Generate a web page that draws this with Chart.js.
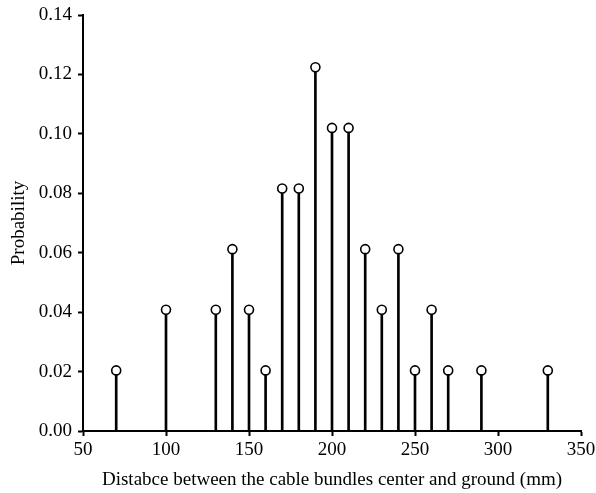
<!DOCTYPE html>
<html>
<head>
<meta charset="utf-8">
<script src="https://cdn.jsdelivr.net/npm/chart.js@4"></script>
<style>
  html, body { margin: 0; padding: 0; background: #fff; }
  #wrap { width: 596px; height: 493px; }
</style>
</head>
<body>
<div id="wrap"><canvas id="stemChart" width="596" height="493"></canvas></div>
<script>
// distance (mm) and probability
const distances = [70, 100, 130, 140, 150, 160, 170, 180, 190, 200, 210, 220, 230, 240, 250, 260, 270, 290, 330];
const probabilities = [0.0204, 0.0408, 0.0408, 0.0612, 0.0408, 0.0204, 0.0816, 0.0816, 0.1224, 0.1020, 0.1020,
  0.0612, 0.0408, 0.0612, 0.0204, 0.0408, 0.0204, 0.0204, 0.0204];
const xTicks = [50, 100, 150, 200, 250, 300, 350];
const yTicks = [0, 0.02, 0.04, 0.06, 0.08, 0.10, 0.12, 0.14];

const points = distances.map((d, i) => ({ x: d, y: probabilities[i] }));
const serif = "'Liberation Serif', 'Times New Roman', serif";

Chart.defaults.font.family = serif;
Chart.defaults.font.size = 19;
Chart.defaults.color = "#000";

const ctx = document.getElementById("stemChart").getContext("2d");
new Chart(ctx, {
  type: "bar",
  data: {
    datasets: [
      {
        type: "scatter",
        data: points,
        order: 0,
        pointRadius: 4.5,
        pointBorderWidth: 1.6,
        pointBackgroundColor: "#fff",
        pointBorderColor: "#000",
      },
      {
        type: "bar",
        data: points,
        order: 1,
        backgroundColor: "#000",
        barThickness: 2,
        borderWidth: 0,
      },
    ],
  },
  options: {
    responsive: false,
    animation: false,
    layout: { padding: { top: 15, right: 15, left: 0, bottom: 0 } },
    plugins: {
      legend: { display: false },
      tooltip: { enabled: false },
    },
    scales: {
      x: {
        type: "linear",
        offset: false,
        min: 50,
        max: 350,
        afterBuildTicks: (scale) => { scale.ticks = xTicks.map((v) => ({ value: v })); },
        afterFit: (scale) => {
          scale.height = 62;
          scale.paddingLeft = 0;
          scale.paddingRight = 0;
        },
        ticks: { font: { size: 19 }, padding: 3, maxRotation: 0 },
        grid: { offset: false, drawOnChartArea: false, tickLength: 5, tickWidth: 2, tickColor: "#000" },
        border: { color: "#000", width: 2 },
        title: {
          display: true,
          text: "Distabce between the cable bundles center and ground (mm)",
          font: { size: 19 },
          padding: { top: 4, bottom: 2 },
        },
      },
      y: {
        min: 0,
        max: 0.14,
        afterBuildTicks: (scale) => { scale.ticks = yTicks.map((v) => ({ value: v })); },
        afterFit: (scale) => {
          scale.width = 83;
          scale.paddingTop = 0;
          scale.paddingBottom = 0;
        },
        ticks: {
          font: { size: 19 },
          padding: 6,
          callback: (v) => v.toFixed(2),
        },
        grid: { drawOnChartArea: false, tickLength: 5, tickWidth: 2, tickColor: "#000" },
        border: { color: "#000", width: 2 },
        title: {
          display: true,
          text: "Probability",
          font: { size: 19 },
          padding: { top: 8, bottom: 0 },
        },
      },
    },
  },
});
</script>
</body>
</html>
